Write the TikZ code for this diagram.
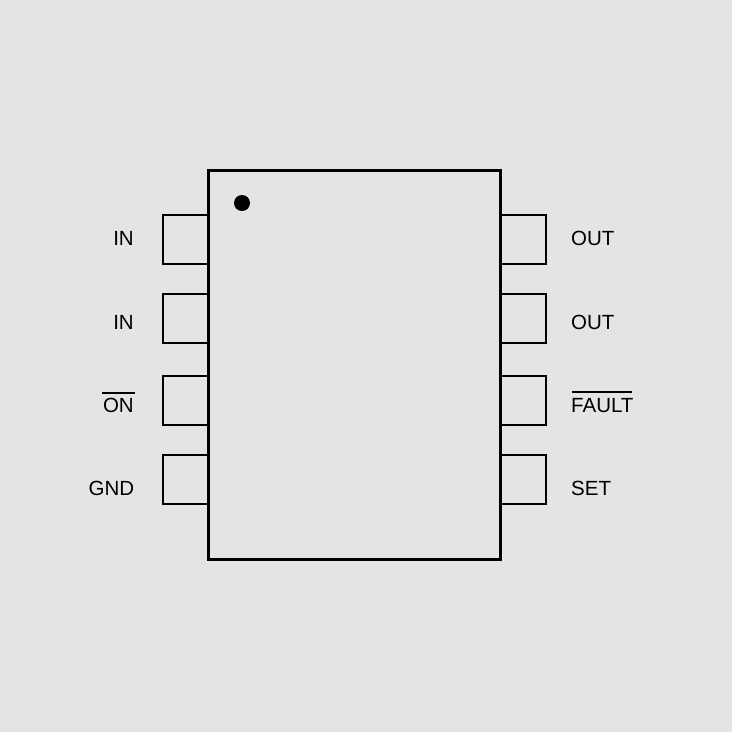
\documentclass[tikz,border=0pt]{standalone}
\usepackage{fontspec}
\setmainfont{Liberation Sans}
\definecolor{bgc}{HTML}{E4E4E4}
\begin{document}
\begin{tikzpicture}[x=1pt,y=-1pt,
  pinbox/.style={draw=black,line width=2pt,line join=miter},
  bodybox/.style={draw=black,line width=3pt,line join=miter},
  barline/.style={draw=black,line width=1.8pt},
  pinlabelL/.style={inner sep=0pt,anchor=base east,font=\fontsize{20.5}{24}\selectfont},
  pinlabelR/.style={inner sep=0pt,anchor=base west,font=\fontsize{20.5}{24}\selectfont}]
\fill[bgc] (0,0) rectangle (732,732);
\useasboundingbox (0,0) rectangle (732,732);
% pins
\foreach \t/\b in {215/264,294/343,376/425,455/504}{
  \draw[pinbox] (208,\t) -- (163,\t) -- (163,\b) -- (208,\b);
  \draw[pinbox] (501,\t) -- (546,\t) -- (546,\b) -- (501,\b);
}
% body
\draw[bodybox] (208.5,170.5) rectangle (500.5,559.5);
\fill[black] (242,203) circle (8);
% labels
\node[pinlabelL] (l1) at (134,245) {IN};
\node[pinlabelL] (l2) at (134,329) {IN};
\node[pinlabelL] (l3) at (134,412) {ON};
\node[pinlabelL] (l4) at (134.5,495) {GND};
\node[pinlabelR] (r1) at (571,245) {OUT};
\node[pinlabelR] (r2) at (571,329) {OUT};
\node[pinlabelR] (r3) at (571,412) {FAULT};
\node[pinlabelR] (r4) at (571,495) {SET};
% overbars
\draw[barline] (102,393) -- (135,393);
\draw[barline] (572,392) -- (632,392);
\end{tikzpicture}
\end{document}
